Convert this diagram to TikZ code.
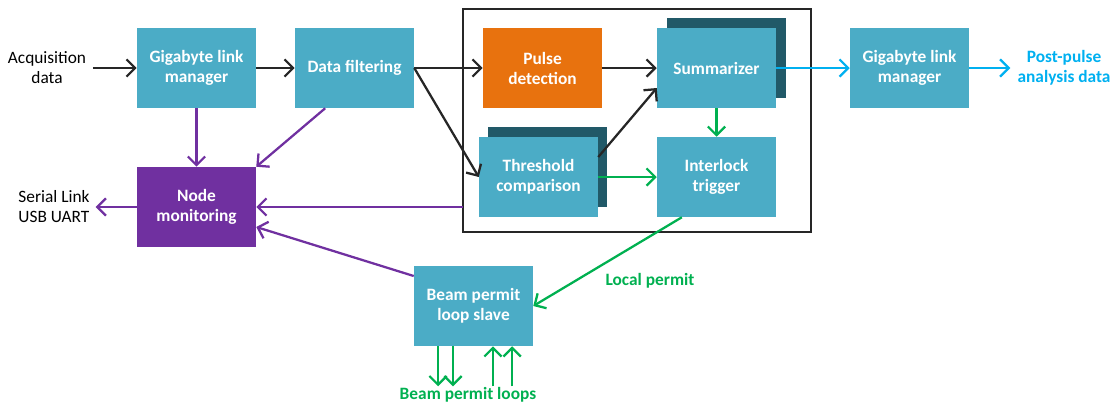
\documentclass[tikz,border=0pt]{standalone}
\usepackage{fontspec}
\setmainfont{Carlito}
\usetikzlibrary{arrows.meta}
\definecolor{teal}{RGB}{75,172,198}
\definecolor{shade}{RGB}{33,89,104}
\definecolor{orng}{RGB}{232,114,14}
\definecolor{purp}{RGB}{112,48,160}
\definecolor{grn}{RGB}{0,176,80}
\definecolor{cyn}{RGB}{0,176,240}
\definecolor{blk}{RGB}{38,38,38}
\begin{document}
\begin{tikzpicture}[x=0.75pt,y=-0.75pt,
  blk/.style={minimum width=89.25pt,minimum height=60pt,inner sep=0pt,
    text=white,font=\fontsize{13}{15}\selectfont\bfseries,align=center},
  tealbox/.style={blk,fill=teal},
  shadowbox/.style={minimum width=89.25pt,minimum height=60pt,inner sep=0pt,fill=shade},
  lbl/.style={font=\fontsize{13}{15}\selectfont,align=center},
  blbl/.style={font=\fontsize{13}{15}\selectfont\bfseries,align=center},
  arr/.style={line width=1.7pt,-{Straight Barb[length=6.5pt,width=13pt,line width=1.7pt]}},
  ablk/.style={arr,draw=blk},
  apur/.style={arr,draw=purp},
  agrn/.style={arr,draw=grn},
  acyn/.style={arr,draw=cyn}]
\useasboundingbox (0,0) rectangle (1116,405);
% outer frame
\draw[line width=1.7pt,draw=blk] (463,9) rectangle (811,232);
\coordinate (frameL) at (463,207);
% shadows
\node[shadowbox] (sumsh) at (726.5,58) {};
\node[shadowbox] (thrsh) at (547.5,167) {};
% boxes
\node[tealbox] (glm1) at (196.5,68) {Gigabyte link\\manager};
\node[tealbox] (df) at (354.5,68) {Data filtering};
\node[blk,fill=purp] (nm) at (196.5,207) {Node\\monitoring};
\node[blk,fill=orng] (pd) at (542.5,68) {Pulse\\detection};
\node[tealbox] (sum) at (716.5,68) {Summarizer};
\node[tealbox] (thr) at (538.5,177) {Threshold\\comparison};
\node[tealbox] (il) at (716.5,177) {Interlock\\trigger};
\node[tealbox] (glm2) at (909.5,68) {Gigabyte link\\manager};
\node[tealbox] (bpl) at (473.5,306) {Beam permit\\loop slave};
% labels
\node[lbl] (acq) at (47,68) {Acquisition\\data};
\node[lbl,align=left] (ser) at (54,207) {Serial Link\\USB UART};
\node[blbl,text=cyn] (ppa) at (1064,68) {Post-pulse\\analysis data};
\node[blbl,text=grn] (lp) at (650,281) {Local permit};
\node[blbl,text=grn] (bploops) at (468,395) {Beam permit loops};
% black arrows
\draw[ablk] (acq.east) ++(2,0) -- (glm1.west);
\draw[ablk] (glm1.east) -- (df.west);
\draw[ablk] (df.east) -- (pd.west);
\draw[ablk] (df.east) -- (thr.west);
\draw[ablk] (pd.east) -- (sum.west);
\draw[ablk] ([yshift=15pt]thr.east) -- ([yshift=-15pt]sum.west);
% green
\draw[agrn] (thr.east) -- (il.west);
\draw[agrn] (sum.south) -- (il.north);
\draw[agrn] ([xshift=-26pt]il.south) -- (bpl.east);
\draw[agrn] ([xshift=-26.6pt]bpl.south) -- ++(0,40);
\draw[agrn] ([xshift=-15.4pt]bpl.south) -- ++(0,40);
\draw[agrn] ([xshift=14.6pt]bpl.south) ++(0,40) -- ++(0,-40);
\draw[agrn] ([xshift=28.9pt]bpl.south) ++(0,40) -- ++(0,-40);
% cyan
\draw[acyn] (sum.east) -- (glm2.west);
\draw[acyn] (glm2.east) -- ++(41,0);
% purple
\draw[apur] (glm1.south) -- (nm.north);
\draw[apur] ([xshift=-22pt]df.south) -- (nm.north east);
\draw[apur] (frameL) -- (nm.east);
\draw[apur] ([yshift=22.5pt]bpl.west) -- ([yshift=-15pt]nm.east);
\draw[apur] (nm.west) -- ++(-41,0);
\end{tikzpicture}
\end{document}
